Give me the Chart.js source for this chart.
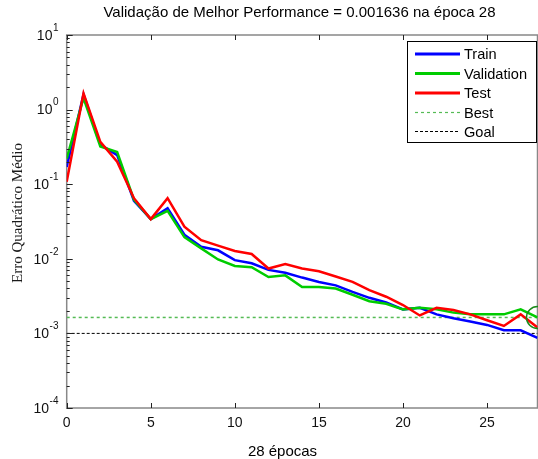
<!DOCTYPE html>
<html><head><meta charset="utf-8">
<script src="https://cdn.jsdelivr.net/npm/chart.js@4/dist/chart.umd.min.js"></script>
<style>
html,body{margin:0;padding:0;overflow:hidden;background:#fff;width:538px;height:459px}
#wrap{position:relative;width:550px;height:459px}
canvas{display:block}
</style>
</head><body><div id="wrap"><canvas id="c" width="550" height="459"></canvas></div>
<script>
const epochs = [0,1,2,3,4,5,6,7,8,9,10,11,12,13,14,15,16,17,18,19,20,21,22,23,24,25,26,27,28];
const trainMSE = [0.17,1.6,0.34,0.245,0.06,0.034,0.0475,0.021,0.0145,0.013,0.0096,0.0087,0.0071,0.0065,0.0056,0.0049,0.0044,0.0036,0.003,0.0026,0.0021,0.0022,0.0018,0.0016,0.00144,0.0013,0.0011,0.0011,0.00087];
const validationMSE = [0.22,1.43,0.32,0.27,0.062,0.034,0.044,0.0195,0.0138,0.0098,0.008,0.0077,0.0057,0.006,0.0042,0.0042,0.004,0.0033,0.0027,0.0025,0.0021,0.0022,0.0021,0.0019,0.0018,0.0018,0.0018,0.0021,0.001636];
const testMSE = [0.108,1.65,0.37,0.2,0.065,0.034,0.065,0.027,0.0178,0.015,0.0127,0.0116,0.0074,0.0085,0.0074,0.0068,0.0058,0.0049,0.0038,0.0031,0.0024,0.00174,0.0022,0.00206,0.0018,0.0015,0.00126,0.0018,0.0012];
const bestValue = 0.001636;
const bestEpoch = 28;
const goalValue = 0.001;
const xTickValues = [0,5,10,15,20,25];
const yExponents = [1,0,-1,-2,-3,-4];
const legendLabels = ['Train','Validation','Test','Best','Goal'];
const titleText = 'Validação de Melhor Performance = 0.001636 na época 28';
const xTitleText = '28 épocas';
const yTitleText = 'Erro Quadrático Médio';

const C_TRAIN = '#0000ff', C_VAL = '#00cc00', C_TEST = '#ff0000', C_BEST = '#55bb55', C_GOAL = '#000000';
const pts = arr => epochs.map((e,i)=>({x:e,y:arr[i]}));
const SANS = '"Liberation Sans", Arial, sans-serif';

const decor = {
  id:'decor',
  beforeDatasetsDraw(chart){
    const ctx = chart.ctx, a = chart.chartArea;
    ctx.save();
    ctx.strokeStyle = '#888'; ctx.lineWidth = 1.5;
    ctx.strokeRect(a.left, a.top, a.right-a.left, a.bottom-a.top);
    ctx.restore();
  },
  afterDraw(chart){
    const ctx = chart.ctx, a = chart.chartArea, xs = chart.scales.x, ys = chart.scales.y;
    ctx.save();
    ctx.strokeStyle = '#222'; ctx.lineWidth = 1;
    xTickValues.forEach(v=>{
      const px = Math.round(xs.getPixelForValue(v))+0.5;
      ctx.beginPath(); ctx.moveTo(px,a.bottom); ctx.lineTo(px,a.bottom-5);
      ctx.moveTo(px,a.top); ctx.lineTo(px,a.top+5); ctx.stroke();
    });
    for(let e=-4;e<1;e++){
      for(let m=1;m<=9;m++){
        const v = m*Math.pow(10,e);
        const py = Math.round(ys.getPixelForValue(v))+0.5;
        const len = m===1?6:3;
        ctx.beginPath(); ctx.moveTo(a.left,py); ctx.lineTo(a.left+len,py); ctx.stroke();
      }
    }
    {const py = Math.round(ys.getPixelForValue(10))+0.5;
     ctx.beginPath(); ctx.moveTo(a.left,py); ctx.lineTo(a.left+6,py); ctx.stroke();}
    ctx.fillStyle = '#111'; ctx.font = '14px '+SANS; ctx.textAlign='center'; ctx.textBaseline='middle';
    xTickValues.forEach(v=>{ ctx.fillText(String(v), xs.getPixelForValue(v), 423); });
    yExponents.forEach(ex=>{
      const py = ys.getPixelForValue(Math.pow(10,ex));
      const expStr = String(ex);
      ctx.font = '10px '+SANS; ctx.textAlign='right'; ctx.textBaseline='middle';
      const ew = ctx.measureText(expStr).width;
      ctx.fillText(expStr, 58.5, py-7);
      ctx.font = '14px '+SANS;
      ctx.fillText('10', 58.5-ew-0.5, py+1);
    });
    ctx.fillStyle = '#000'; ctx.font = '15px '+SANS; ctx.textAlign='center'; ctx.textBaseline='middle';
    ctx.fillText(titleText, 299.5, 13);
    ctx.fillText(xTitleText, 282.5, 452);
    ctx.save();
    ctx.translate(18,213); ctx.rotate(-Math.PI/2);
    ctx.font = '15px "Liberation Serif", "Times New Roman", serif'; ctx.fillStyle = '#1a1a1a';
    ctx.fillText(yTitleText, 0, 0);
    ctx.restore();
    const lx=407.5, ly=41.5, lw=129, lh=101;
    ctx.fillStyle='#fff'; ctx.fillRect(lx,ly,lw,lh);
    ctx.strokeStyle='#000'; ctx.lineWidth=1; ctx.strokeRect(lx,ly,lw,lh);
    const styles = [[C_TRAIN,3,[]],[C_VAL,3,[]],[C_TEST,3,[]],[C_BEST,1.2,[3,3]],[C_GOAL,1.2,[3,2]]];
    const rows = [54,73.5,93,112.5,131.5];
    legendLabels.forEach((lab,i)=>{
      const [col,w,d] = styles[i];
      ctx.strokeStyle=col; ctx.lineWidth=w; ctx.setLineDash(d);
      ctx.beginPath(); ctx.moveTo(415,rows[i]); ctx.lineTo(460,rows[i]); ctx.stroke();
      ctx.setLineDash([]);
      ctx.fillStyle='#000'; ctx.font='14.6px '+SANS; ctx.textAlign='left'; ctx.textBaseline='middle';
      ctx.fillText(lab, 464, rows[i]+1);
    });
    ctx.restore();
  }
};

new Chart(document.getElementById('c'), {
  type:'line',
  data:{datasets:[
    {label:'Train', data:pts(trainMSE), borderColor:C_TRAIN, borderWidth:2.5, pointRadius:0, tension:0, order:3},
    {label:'Validation', data:pts(validationMSE), borderColor:C_VAL, borderWidth:2.5, pointRadius:0, tension:0, order:2},
    {label:'Test', data:pts(testMSE), borderColor:C_TEST, borderWidth:2.5, pointRadius:0, tension:0, order:1},
    {label:'Best', data:[{x:0,y:bestValue},{x:28,y:bestValue}], borderColor:C_BEST, borderWidth:1.5, borderDash:[3,3], pointRadius:0, order:5},
    {label:'Goal', data:[{x:0,y:goalValue},{x:28,y:goalValue}], borderColor:C_GOAL, borderWidth:1, borderDash:[3,2], pointRadius:0, order:6},
    {label:'BestPoint', type:'scatter', data:[{x:bestEpoch,y:bestValue}], borderColor:'#1a8a1a', backgroundColor:'rgba(0,0,0,0)', borderWidth:1.5, pointRadius:11, clip:false, order:0}
  ]},
  options:{
    responsive:false, animation:false, devicePixelRatio:1,
    layout:{padding:{left:66.7, top:35, right:550-541.6, bottom:459-408}},
    scales:{
      x:{type:'linear', min:0, max:28, display:false},
      y:{type:'logarithmic', min:1e-4, max:10, display:false}
    },
    plugins:{legend:{display:false}, tooltip:{enabled:false}, title:{display:false}}
  },
  plugins:[decor]
});
</script></body></html>
